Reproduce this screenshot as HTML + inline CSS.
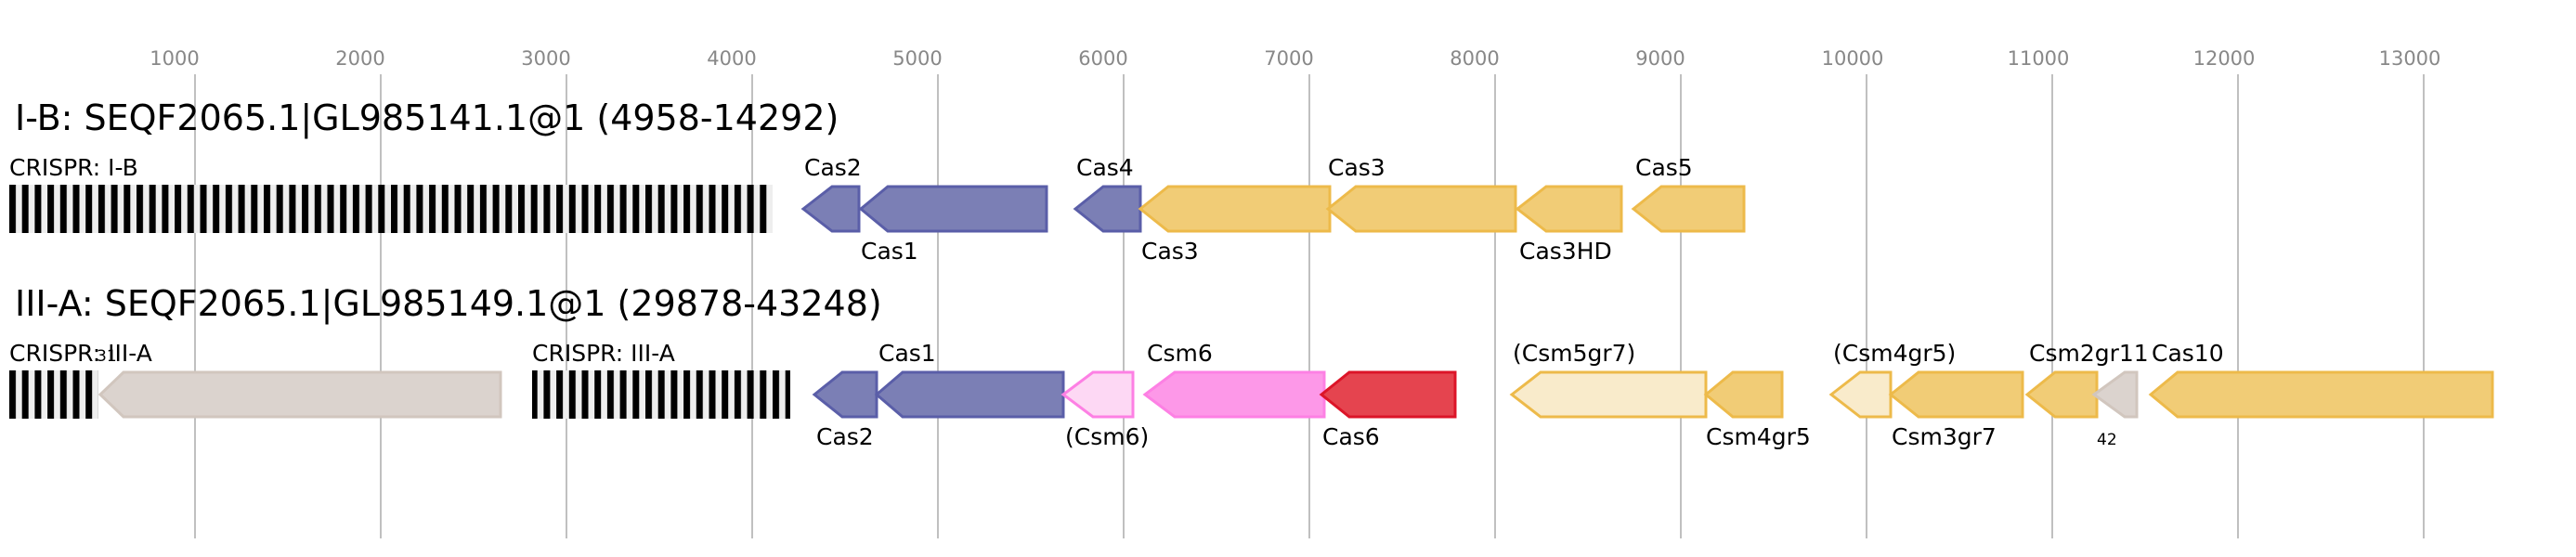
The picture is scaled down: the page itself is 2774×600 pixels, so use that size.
<!DOCTYPE html>
<html><head><meta charset="utf-8"><style>
html,body{margin:0;padding:0;background:#fff;}
svg{display:block;font-family:"DejaVu Sans","Liberation Sans",sans-serif;}
</style></head><body>
<svg width="2774" height="600" viewBox="0 0 2774 600" xmlns="http://www.w3.org/2000/svg">
<defs>
<pattern id="cr" x="10" y="0" width="13.7" height="600" patternUnits="userSpaceOnUse">
<rect x="0" y="0" width="13.7" height="600" fill="#eeeeee"/>
<rect x="0" y="0" width="7" height="600" fill="#000"/>
</pattern>
</defs>
<g stroke="#c0c0c0" stroke-width="2">
<line x1="210" y1="80" x2="210" y2="580"/><line x1="410" y1="80" x2="410" y2="580"/>
<line x1="610" y1="80" x2="610" y2="580"/><line x1="810" y1="80" x2="810" y2="580"/>
<line x1="1010" y1="80" x2="1010" y2="580"/><line x1="1210" y1="80" x2="1210" y2="580"/>
<line x1="1410" y1="80" x2="1410" y2="580"/><line x1="1610" y1="80" x2="1610" y2="580"/>
<line x1="1810" y1="80" x2="1810" y2="580"/><line x1="2010" y1="80" x2="2010" y2="580"/>
<line x1="2210" y1="80" x2="2210" y2="580"/><line x1="2410" y1="80" x2="2410" y2="580"/>
<line x1="2610" y1="80" x2="2610" y2="580"/>
</g>
<g fill="#888" font-size="21" text-anchor="middle">
<text x="188" y="70">1000</text><text x="388" y="70">2000</text><text x="588" y="70">3000</text>
<text x="788" y="70">4000</text><text x="988" y="70">5000</text><text x="1188" y="70">6000</text>
<text x="1388" y="70">7000</text><text x="1588" y="70">8000</text><text x="1788" y="70">9000</text>
<text x="1995" y="70">10000</text><text x="2195" y="70">11000</text><text x="2395" y="70">12000</text>
<text x="2595" y="70">13000</text>
</g>
<g font-size="38" fill="#000">
<text x="16" y="140">I-B: SEQF2065.1|GL985141.1@1 (4958-14292)</text>
<text x="16" y="340">III-A: SEQF2065.1|GL985149.1@1 (29878-43248)</text>
</g>
<rect x="10" y="199" width="822" height="52" fill="url(#cr)"/>
<rect x="10" y="399" width="96" height="52" fill="url(#cr)"/>
<rect x="573" y="399" width="278" height="52" fill="url(#cr)"/>
<g stroke-width="3" stroke-linejoin="miter">
<polygon points="865,225 896,201 925,201 925,249 896,249" fill="#7b7fb5" stroke="#5a5ea8"/>
<polygon points="927,225 956,201 1127,201 1127,249 956,249" fill="#7b7fb5" stroke="#5a5ea8"/>
<polygon points="1158,225 1188,201 1228,201 1228,249 1188,249" fill="#7b7fb5" stroke="#5a5ea8"/>
<polygon points="1228,225 1258,201 1432,201 1432,249 1258,249" fill="#f1cc76" stroke="#edba4a"/>
<polygon points="1430,225 1460,201 1632,201 1632,249 1460,249" fill="#f1cc76" stroke="#edba4a"/>
<polygon points="1634,225 1665,201 1746,201 1746,249 1665,249" fill="#f1cc76" stroke="#edba4a"/>
<polygon points="1759,225 1789,201 1878,201 1878,249 1789,249" fill="#f1cc76" stroke="#edba4a"/>
<polygon points="108,425 133,401 539,401 539,449 133,449" fill="#dbd3ce" stroke="#d1c6be"/>
<polygon points="877,425 907,401 944,401 944,449 907,449" fill="#7b7fb5" stroke="#5a5ea8"/>
<polygon points="944,425 972,401 1145,401 1145,449 972,449" fill="#7b7fb5" stroke="#5a5ea8"/>
<polygon points="1145,425 1177,401 1220,401 1220,449 1177,449" fill="#fdd8f4" stroke="#fd80e4"/>
<polygon points="1233,425 1265,401 1426,401 1426,449 1265,449" fill="#fd98e8" stroke="#fd80e4"/>
<polygon points="1423,425 1453,401 1567,401 1567,449 1453,449" fill="#e5444f" stroke="#dc1428"/>
<polygon points="1628,425 1659,401 1837,401 1837,449 1659,449" fill="#f9ebcb" stroke="#edba4a"/>
<polygon points="1837,425 1866,401 1919,401 1919,449 1866,449" fill="#f1cc76" stroke="#edba4a"/>
<polygon points="1972,425 2003,401 2036,401 2036,449 2003,449" fill="#f9ebcb" stroke="#edba4a"/>
<polygon points="2036,425 2066,401 2178,401 2178,449 2066,449" fill="#f1cc76" stroke="#edba4a"/>
<polygon points="2183,425 2213,401 2258,401 2258,449 2213,449" fill="#f1cc76" stroke="#edba4a"/>
<polygon points="2255,425 2288,401 2301,401 2301,449 2288,449" fill="#dbd3ce" stroke="#d1c6be"/>
<polygon points="2316,425 2345,401 2684,401 2684,449 2345,449" fill="#f1cc76" stroke="#edba4a"/>
</g>
<g font-size="25" fill="#000">
<text x="10" y="189">CRISPR: I-B</text>
<text x="866" y="189">Cas2</text>
<text x="927" y="279">Cas1</text>
<text x="1159" y="189">Cas4</text>
<text x="1229" y="279">Cas3</text>
<text x="1430" y="189">Cas3</text>
<text x="1636" y="279">Cas3HD</text>
<text x="1761" y="189">Cas5</text>
<text x="10" y="389">CRISPR: III-A</text>
<text x="573" y="389">CRISPR: III-A</text>
<text x="879" y="479">Cas2</text>
<text x="946" y="389">Cas1</text>
<text x="1147" y="479">(Csm6)</text>
<text x="1235" y="389">Csm6</text>
<text x="1424" y="479">Cas6</text>
<text x="1629" y="389">(Csm5gr7)</text>
<text x="1837" y="479">Csm4gr5</text>
<text x="1974" y="389">(Csm4gr5)</text>
<text x="2037" y="479">Csm3gr7</text>
<text x="2185" y="389">Csm2gr11</text>
<text x="2317" y="389">Cas10</text>
</g>
<text x="2258" y="479" font-size="17" fill="#000">42</text>
<text x="104" y="389" font-size="17" fill="#000">31</text>
</svg>
</body></html>
